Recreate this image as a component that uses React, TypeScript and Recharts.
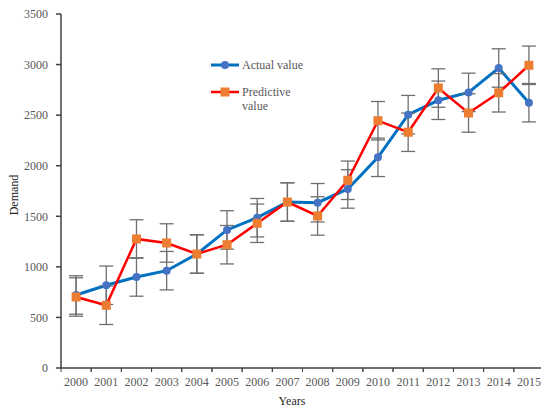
import React from "react";
import { ComposedChart, Line, XAxis, YAxis, ErrorBar } from "recharts";

const years = [2000, 2001, 2002, 2003, 2004, 2005, 2006, 2007, 2008, 2009, 2010, 2011, 2012, 2013, 2014, 2015];
const actualValues = [722, 818, 900, 962, 1127, 1365, 1486, 1641, 1634, 1770, 2083, 2505, 2647, 2725, 2966, 2623];
const predictedValues = [702, 620, 1276, 1236, 1127, 1219, 1431, 1641, 1503, 1856, 2445, 2331, 2768, 2521, 2721, 2993];
const actualErrors = [190, 190, 190, 190, 190, 190, 190, 190, 190, 190, 190, 190, 190, 190, 190, 190];
const predictedErrors = [190, 190, 190, 190, 190, 190, 190, 190, 190, 190, 190, 190, 190, 190, 190, 190];
const yTicks = [0, 500, 1000, 1500, 2000, 2500, 3000, 3500];

const data = years.map((year, i) => ({
  year,
  actual: actualValues[i],
  predicted: predictedValues[i],
  actualErr: actualErrors[i],
  predictedErr: predictedErrors[i],
}));

const FONT = "'Liberation Serif', 'Times New Roman', serif";
const AXIS = "#404040";
const LABEL = "#595959";
const CHART_W = 544;
const LEFT = 61;
const BAND = (CHART_W - LEFT) / years.length;

function YearTick(props: any) {
  const { x, y, payload } = props;
  const bx = x - BAND / 2;
  return (
    <g>
      <line x1={bx} x2={bx} y1={y} y2={y + 4} stroke={AXIS} strokeWidth={1} />
      <line x1={bx + BAND} x2={bx + BAND} y1={y} y2={y + 4} stroke={AXIS} strokeWidth={1} />
      <text x={x} y={y + 18} textAnchor="middle" fill={LABEL} fontSize={12} fontFamily={FONT}>
        {payload.value}
      </text>
    </g>
  );
}

function SquareDot(props: any) {
  const { cx, cy } = props;
  if (cx == null || cy == null) return null;
  return <rect x={cx - 4.5} y={cy - 4.5} width={9} height={9} fill="#ED7D31" />;
}

export default function App() {
  return (
    <div style={{ position: "absolute", left: 0, top: 0, width: 541, height: 407, overflow: "hidden", background: "#fff" }}>
      <ComposedChart width={CHART_W} height={407} data={data} margin={{ top: 14, right: 0, bottom: 14, left: 0 }}>
        <XAxis
          dataKey="year"
          type="number"
          domain={[1999.5, 2015.5]}
          ticks={years}
          interval={0}
          height={25}
          tickSize={0}
          tickMargin={0}
          tickLine={false}
          tick={<YearTick />}
          stroke={AXIS}
          strokeWidth={1.5}
        />
        <YAxis
          width={LEFT}
          domain={[0, 3500]}
          ticks={yTicks}
          interval={0}
          tickSize={5}
          tickMargin={8}
          stroke={AXIS}
          strokeWidth={1.5}
          tick={{ fill: LABEL, fontSize: 12, fontFamily: FONT }}
        />
        <Line
          dataKey="actual"
          stroke="#0070C0"
          strokeWidth={3}
          dot={{ r: 4, fill: "#4472C4", stroke: "#4472C4", strokeWidth: 0 }}
          isAnimationActive={false}
        >
          <ErrorBar dataKey="actualErr" direction="y" width={7} stroke="#6f6f6f" strokeWidth={1.3} isAnimationActive={false} />
        </Line>
        <Line
          dataKey="predicted"
          stroke="#FF0000"
          strokeWidth={2.5}
          dot={<SquareDot />}
          isAnimationActive={false}
        >
          <ErrorBar dataKey="predictedErr" direction="y" width={7} stroke="#6f6f6f" strokeWidth={1.3} isAnimationActive={false} />
        </Line>
      </ComposedChart>
      <svg width={541} height={407} style={{ position: "absolute", left: 0, top: 0, pointerEvents: "none" }}>
        <text x={292} y={405} textAnchor="middle" fill="#262626" fontSize={12} fontFamily={FONT}>
          Years
        </text>
        <text x={18} y={195} textAnchor="middle" fill="#262626" fontSize={12} fontFamily={FONT} transform="rotate(-90 18 195)">
          Demand
        </text>
        <line x1={211} x2={239} y1={65} y2={65} stroke="#0070C0" strokeWidth={3} />
        <circle cx={225} cy={65} r={4} fill="#4472C4" />
        <text x={242} y={69} fill={LABEL} fontSize={12} fontFamily={FONT}>
          Actual value
        </text>
        <line x1={211} x2={239} y1={92} y2={92} stroke="#FF0000" strokeWidth={2.5} />
        <rect x={220.5} y={87.5} width={9} height={9} fill="#ED7D31" />
        <text x={242} y={96} fill={LABEL} fontSize={12} fontFamily={FONT}>
          Predictive
        </text>
        <text x={242} y={110} fill={LABEL} fontSize={12} fontFamily={FONT}>
          value
        </text>
      </svg>
    </div>
  );
}
